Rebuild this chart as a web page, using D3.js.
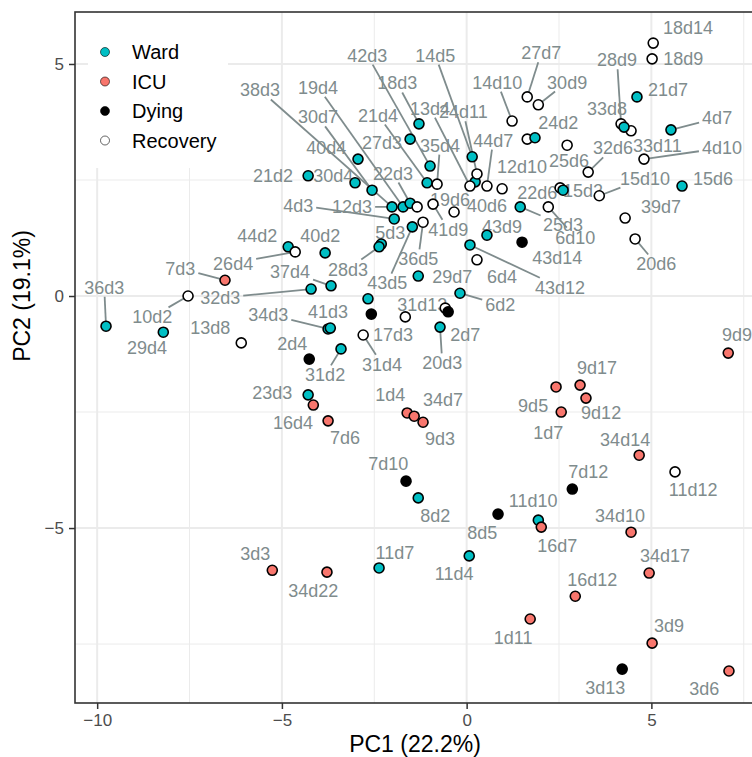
<!DOCTYPE html>
<html>
<head>
<meta charset="utf-8">
<script src="https://cdn.jsdelivr.net/npm/d3@7/dist/d3.min.js"></script>
<style>
  body { margin: 0; background: #fff; }
  svg { display: block; font-family: "Liberation Sans", Arial, Helvetica, sans-serif; }
</style>
</head>
<body>
<svg id="chart" width="752" height="757"></svg>
<script>
// sample ids, in drawing order ('' = label dropped by the repel step)
var sampleIds = ['36d3','29d4','44d2','26d4','40d2','7d3','10d2','13d8','37d4','32d3',
  '34d3','41d3','2d4','31d2','23d3','16d4','7d6','1d4','34d7','9d3',
  '3d3','34d22','11d7','7d10','8d2','11d4','8d5','11d10','16d7','1d11',
  '7d12','16d12','34d10','34d14','11d12','34d17','3d9','3d13','3d6','9d9',
  '9d5','9d17','9d12','1d7','31d13','2d7','20d3','17d3','31d4','',
  '','29d7','6d2','6d4','43d12','43d14','43d9','25d3','6d10','15d2',
  '22d6','15d10','39d7','20d6','15d6','4d10','33d11','4d7','28d9','33d8',
  '21d7','18d9','18d14','25d6','32d6','','24d2','30d9','27d7','14d10',
  '14d5','42d3','18d3','40d6','13d4','24d11','44d7','12d10','21d4','35d4',
  '27d3','40d4','30d7','30d4','21d2','38d3','19d4','22d3','12d3','4d3',
  '43d5','36d5','41d9','19d6','5d3','28d3'];

var groups = ['Ward','Ward','Ward','Recovery','Ward','ICU','Recovery','Recovery','Ward','Ward',
  'Ward','Ward','Dying','Ward','Ward','ICU','ICU','ICU','ICU','ICU',
  'ICU','ICU','Ward','Dying','Ward','Ward','Dying','Ward','ICU','ICU',
  'Dying','ICU','ICU','ICU','Recovery','ICU','ICU','Dying','ICU','ICU',
  'ICU','ICU','ICU','ICU','Recovery','Dying','Ward','Recovery','Recovery','Ward',
  'Dying','Ward','Ward','Recovery','Ward','Dying','Ward','Ward','Recovery','Recovery',
  'Ward','Recovery','Recovery','Recovery','Ward','Recovery','Recovery','Ward','Recovery','Ward',
  'Ward','Recovery','Recovery','Recovery','Recovery','Recovery','Ward','Recovery','Recovery','Recovery',
  'Ward','Ward','Ward','Ward','Recovery','Recovery','Recovery','Recovery','Ward','Recovery',
  'Ward','Ward','Ward','Ward','Ward','Ward','Ward','Ward','Recovery','Ward',
  'Ward','Recovery','Recovery','Recovery','Ward','Ward'];

var pc1 = [-9.76,-8.21,-4.83,-4.64,-3.83,-6.54,-7.54,-6.10,-3.67,-4.21,
  -3.75,-3.69,-4.26,-3.40,-4.29,-4.15,-3.75,-1.61,-1.42,-1.18,
  -5.26,-3.78,-2.37,-1.64,-1.31,0.07,0.85,1.94,2.02,1.72,
  2.86,2.94,4.45,4.67,5.64,4.94,5.02,4.21,7.10,7.08,
  2.42,3.07,3.23,2.56,-0.58,-0.50,-0.72,-1.66,-2.80,-2.67,
  -2.58,-1.31,-0.18,0.28,0.09,1.50,0.55,1.45,2.21,2.53,
  2.61,3.59,4.29,4.56,5.83,4.80,4.45,5.53,4.18,4.26,
  4.61,5.02,5.05,2.72,3.29,1.64,1.85,1.94,1.64,1.23,
  0.15,-0.99,-1.29,0.23,0.09,0.28,0.55,0.96,-1.07,-0.80,
  -1.53,-2.94,-2.56,-3.02,-4.29,-2.02,-1.72,-1.53,-1.34,-1.96,
  -1.47,-1.18,-0.91,-0.34,-2.31,-2.37];

var pc2 = [-0.65,-0.78,1.06,0.95,0.93,0.34,0.00,-1.01,0.22,0.15,
  -0.71,-0.69,-1.36,-1.14,-2.13,-2.35,-2.69,-2.52,-2.59,-2.72,
  -5.91,-5.95,-5.86,-3.99,-4.35,-5.60,-4.70,-4.83,-4.98,-6.96,
  -4.16,-6.47,-5.09,-3.43,-3.79,-5.97,-7.48,-8.04,-8.08,-1.23,
  -1.96,-1.92,-2.20,-2.50,-0.26,-0.34,-0.67,-0.45,-0.84,-0.06,
  -0.39,0.43,0.06,0.78,1.10,1.16,1.31,1.92,1.92,2.33,
  2.28,2.16,1.68,1.23,2.37,2.95,3.56,3.58,3.71,3.64,
  4.29,5.11,5.45,3.25,2.67,3.38,3.41,4.12,4.29,3.77,
  3.00,2.80,3.71,2.46,2.37,2.63,2.37,2.31,2.44,2.41,
  3.38,2.95,2.28,2.44,2.59,1.92,1.92,2.00,1.92,1.66,
  1.49,1.59,1.98,1.81,1.12,1.06];

// where the repelled labels ended up (data units)
var labelX = [-9.81,-8.65,-5.67,-6.32,-3.96,-7.75,-8.51,-6.94,-4.78,-6.67,
  -5.37,-3.75,-4.72,-3.83,-5.26,-4.70,-3.29,-2.07,-0.64,-0.72,
  -5.72,-4.15,-1.94,-2.12,-0.85,-0.34,0.42,1.80,2.45,1.26,
  3.29,3.40,4.15,4.29,6.13,5.37,5.48,3.75,6.43,7.32,
  1.80,3.53,3.64,2.21,-1.20,-0.04,-0.66,-1.99,-2.29,null,
  null,-0.39,0.91,0.96,2.53,2.45,0.96,2.61,2.94,3.15,
  1.91,4.83,5.26,5.13,6.67,6.91,5.16,6.78,4.07,3.80,
  5.45,5.86,5.99,2.77,3.96,null,2.48,2.72,2.02,0.83,
  -0.85,-2.69,-1.88,0.55,-0.99,-0.09,0.72,1.50,-2.40,-0.72,
  -2.29,-3.80,-4.02,-3.61,-5.24,-5.59,-4.02,-1.99,-3.10,-4.56,
  -2.15,-1.31,-0.50,-0.45,-2.07,-3.21];

var labelY = [0.19,-1.10,1.31,0.71,1.31,0.60,-0.45,-0.67,0.52,-0.04,
  -0.39,-0.34,-1.03,-1.70,-2.09,-2.72,-3.06,-2.13,-2.24,-3.08,
  -5.54,-6.34,-5.52,-3.62,-4.72,-5.99,-5.09,-4.40,-5.37,-7.35,
  -3.79,-6.10,-4.74,-3.10,-4.16,-5.60,-7.11,-8.43,-8.45,-0.84,
  -2.37,-1.55,-2.52,-2.95,-0.19,-0.84,-1.44,-0.84,-1.47,null,
  null,0.41,-0.19,0.41,0.19,0.82,1.49,1.53,1.27,2.28,
  2.24,2.54,1.92,0.69,2.54,3.19,3.25,3.84,5.09,4.05,
  4.44,5.11,5.78,2.91,3.19,null,3.73,4.61,5.24,4.61,
  5.19,5.19,4.59,1.96,4.05,3.97,3.36,2.78,3.90,3.25,
  3.30,3.21,3.86,2.59,2.59,4.44,4.50,2.65,1.92,1.96,
  0.28,0.80,1.44,2.09,1.36,0.58];

var groupNames = ['Ward', 'ICU', 'Dying', 'Recovery'];
var groupFills = ['#00BFC4', '#F8766D', '#000000', '#FFFFFF'];
var xTicks = [-10, -5, 0, 5];
var yTicks = [-5, 0, 5];
var xMinor = [-7.5, -2.5, 2.5, 7.5];
var yMinor = [-7.5, -2.5, 2.5];

(function () {
    var svg = d3.select('#chart');
    var pL = 75, pT = 12, pR = 760, pB = 703;

    var x = d3.scaleLinear().domain([-10.6, 7.94]).range([pL, pR]);
    var y = d3.scaleLinear().domain([-8.77, 6.12]).range([pB, pT]);
    var fill = d3.scaleOrdinal().domain(groupNames).range(groupFills);

    var minus = function (d) { return d < 0 ? '\u2212' + Math.abs(d) : String(d); };

    // panel + grid
    var grid = svg.append('g');
    grid.selectAll('.vminor').data(xMinor).enter().append('line')
        .attr('x1', x).attr('x2', x).attr('y1', pT).attr('y2', pB)
        .attr('stroke', '#EBEBEB').attr('stroke-width', 1);
    grid.selectAll('.hminor').data(yMinor).enter().append('line')
        .attr('x1', pL).attr('x2', pR).attr('y1', y).attr('y2', y)
        .attr('stroke', '#EBEBEB').attr('stroke-width', 1);
    grid.selectAll('.vmajor').data(xTicks).enter().append('line')
        .attr('x1', x).attr('x2', x).attr('y1', pT).attr('y2', pB)
        .attr('stroke', '#EBEBEB').attr('stroke-width', 2);
    grid.selectAll('.hmajor').data(yTicks).enter().append('line')
        .attr('x1', pL).attr('x2', pR).attr('y1', y).attr('y2', y)
        .attr('stroke', '#EBEBEB').attr('stroke-width', 2);

    // axes
    var xAxis = svg.append('g').attr('transform', 'translate(0,' + pB + ')')
        .call(d3.axisBottom(x).tickValues(xTicks).tickSize(6).tickPadding(5).tickFormat(minus));
    var yAxis = svg.append('g').attr('transform', 'translate(' + pL + ',0)')
        .call(d3.axisLeft(y).tickValues(yTicks).tickSize(6).tickPadding(5).tickFormat(minus));
    [xAxis, yAxis].forEach(function (a) {
        a.select('.domain').remove();
        a.selectAll('.tick line').attr('stroke', '#333333').attr('stroke-width', 1.5);
        a.selectAll('.tick text').attr('fill', '#4D4D4D').style('font-size', '17px')
            .style('font-family', '"Liberation Sans", Arial, sans-serif');
    });

    svg.append('text').attr('x', 415).attr('y', 752)
        .attr('text-anchor', 'middle').style('font-size', '23px').attr('fill', '#000')
        .text('PC1 (22.2%)');
    svg.append('text').attr('transform', 'translate(30,' + y(0) + ') rotate(-90)')
        .attr('text-anchor', 'middle').style('font-size', '23px').attr('fill', '#000')
        .text('PC2 (19.1%)');

    // repelled labels + segments
    var idx = d3.range(sampleIds.length).filter(function (i) { return sampleIds[i] !== ''; });
    var segG = svg.append('g');
    var labG = svg.append('g');

    var labels = labG.selectAll('text').data(idx).enter().append('text')
        .attr('x', function (i) { return x(labelX[i]); })
        .attr('y', function (i) { return y(labelY[i]); })
        .attr('dy', '0.36em')
        .attr('text-anchor', 'middle')
        .attr('fill', '#7F8C8D')
        .style('font-size', '18px')
        .text(function (i) { return sampleIds[i]; });

    labels.each(function (i) {
        var hw = this.getComputedTextLength() / 2, hh = 6.5;
        var cx = x(labelX[i]), cy = y(labelY[i]);
        var px = x(pc1[i]), py = y(pc2[i]);
        var dx = Math.max(cx - hw - px, 0, px - (cx + hw));
        var dy = Math.max(cy - hh - py, 0, py - (cy + hh));
        if (Math.sqrt(dx * dx + dy * dy) <= 17) return;
        var ux = px - cx, uy = py - cy, pad = 3;
        var t = Math.min(ux ? (hw + pad) / Math.abs(ux) : Infinity,
                         uy ? (hh + pad) / Math.abs(uy) : Infinity);
        segG.append('line')
            .attr('x1', cx + ux * t).attr('y1', cy + uy * t)
            .attr('x2', px).attr('y2', py)
            .attr('stroke', '#7F8C8D').attr('stroke-width', 1.8);
    });

    // points on top
    svg.append('g').selectAll('circle').data(d3.range(sampleIds.length)).enter().append('circle')
        .attr('cx', function (i) { return x(pc1[i]); })
        .attr('cy', function (i) { return y(pc2[i]); })
        .attr('r', 5)
        .attr('fill', function (i) { return fill(groups[i]); })
        .attr('stroke', '#000').attr('stroke-width', 1.6);

    // panel border
    svg.append('rect').attr('x', pL).attr('y', pT)
        .attr('width', pR - pL).attr('height', pB - pT)
        .attr('fill', 'none').attr('stroke', '#333333').attr('stroke-width', 1.6);

    // legend inside panel
    var leg = svg.append('g');
    leg.append('rect').attr('x', 88).attr('y', pT + 1).attr('width', 140).attr('height', 155)
        .attr('fill', '#fff');
    var items = leg.selectAll('.item').data(groupNames).enter().append('g')
        .attr('transform', function (d, i) { return 'translate(105,' + (52 + i * 29.5) + ')'; });
    items.append('circle').attr('r', 4.5)
        .attr('fill', function (d) { return fill(d); })
        .attr('stroke', '#000').attr('stroke-width', 0.6);
    items.append('text').attr('x', 27).attr('dy', '0.36em')
        .style('font-size', '20px').attr('fill', '#000')
        .text(function (d) { return d; });
})();
</script>
</body>
</html>
